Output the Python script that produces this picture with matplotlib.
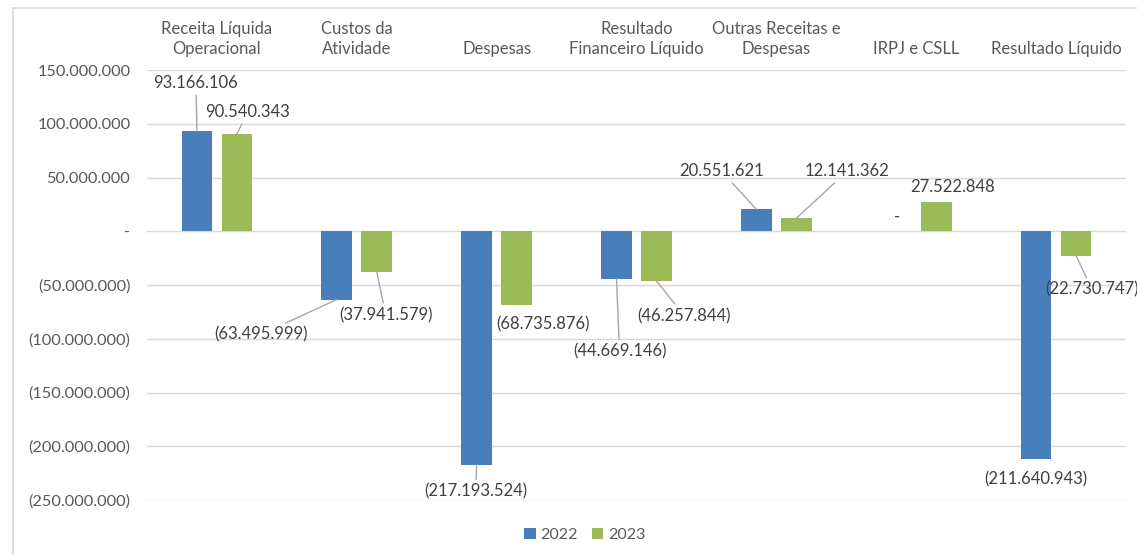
import numpy as np
import matplotlib.pyplot as plt
from matplotlib.patches import Rectangle
from matplotlib.transforms import blended_transform_factory

# dados
categorias = ["Receita Líquida\nOperacional", "Custos da\nAtividade", "Despesas",
              "Resultado\nFinanceiro Líquido", "Outras Receitas e\nDespesas",
              "IRPJ e CSLL", "Resultado Líquido"]
valores_2022 = [93166106, -63495999, -217193524, -44669146, 20551621, 0, -211640943]
valores_2023 = [90540343, -37941579, -68735876, -46257844, 12141362, 27522848, -22730747]
anos = ["2022", "2023"]
yticks = np.arange(-250000000, 150000001, 50000000)

# deslocamento dos rótulos (pixels) e se há linha de chamada
desloc_2022 = [(-1, 48), (-76, -35), (-1, -27), (3, -72), (-35, 38), (1, 14), (0, -21)]
desloc_2023 = [(11, 22), (9, -43), (26, -19), (28, -35), (51, 47), (16, 15), (16, -34)]
linha_2022 = [True, True, True, True, True, False, False]
linha_2023 = [True, True, False, True, True, False, True]

azul = "#4A7EBB"
verde = "#9BBB59"
cinza_txt = "#595959"
cinza_grade = "#D9D9D9"

plt.rcParams['font.family'] = ['Lato', 'DejaVu Sans']


def fmt(v):
    if v == 0:
        return "-"
    s = "{:,.0f}".format(abs(v)).replace(",", ".")
    return "(" + s + ")" if v < 0 else s


W, H = 1137, 555
fig = plt.figure(figsize=(W / 100, H / 100), dpi=100)
ax = fig.add_axes([147 / W, (H - 500) / H, (1126 - 147) / W, 430 / H])

x = np.arange(len(categorias))
larg = 0.22
off = 0.143
b1 = ax.bar(x - off, valores_2022, larg, color=azul, label=anos[0], zorder=3)
b2 = ax.bar(x + off, valores_2023, larg, color=verde, label=anos[1], zorder=3)

ax.set_xlim(-0.5, len(categorias) - 0.5)
ax.set_ylim(-250000000, 150000000)
ax.set_yticks(yticks)
ax.set_yticklabels([fmt(v) for v in yticks], color=cinza_txt, fontsize=11.8)
ax.tick_params(axis='y', length=0, pad=12)
ax.set_xticks([])
for s in ax.spines.values():
    s.set_visible(False)
ax.grid(axis='y', color=cinza_grade, linewidth=1, zorder=0)
ax.set_axisbelow(True)

# rótulos das categorias no topo
tr = blended_transform_factory(ax.transData, fig.transFigure)
for i, c in enumerate(categorias):
    ax.text(i, 1 - 57 / H, c, transform=tr, ha='center', va='bottom',
            fontsize=12, color=cinza_txt, linespacing=1.3)

# rótulos de valores
for serie, desl, linha, dx0 in [(valores_2022, desloc_2022, linha_2022, -off),
                                 (valores_2023, desloc_2023, linha_2023, off)]:
    for i, v in enumerate(serie):
        ap = dict(arrowstyle='-', color='#A6A6A6', lw=1, shrinkA=1, shrinkB=0) if linha[i] else None
        ax.annotate(fmt(v), xy=(i + dx0, v), xytext=desl[i], textcoords='offset pixels',
                    ha='center', va='center', fontsize=12, color='#404040',
                    arrowprops=ap, annotation_clip=False, zorder=4)

fig.legend(handles=[b1, b2], labels=anos, loc='center', bbox_to_anchor=(585 / W, 20 / H),
           ncol=2, frameon=False, fontsize=11.5, handlelength=0.7, handleheight=0.7,
           handletextpad=0.3, columnspacing=0.9, labelcolor=cinza_txt)

fig.add_artist(Rectangle((13 / W, -0.02), 1.1, 1 - 8 / H + 0.02, transform=fig.transFigure,
                         fill=False, edgecolor=cinza_grade, linewidth=1.2))

fig.savefig("out.png", dpi=100)
